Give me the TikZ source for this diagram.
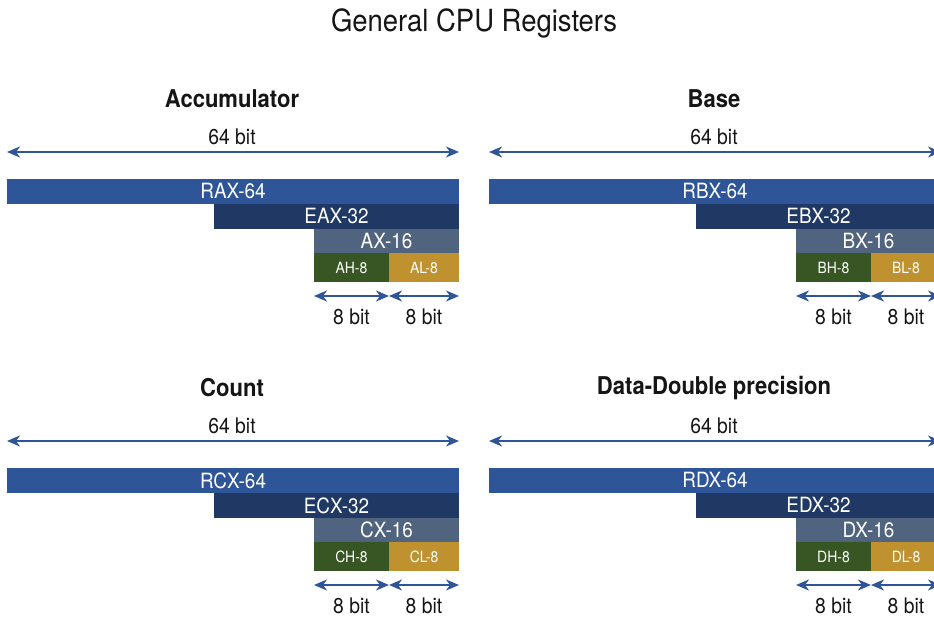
\documentclass[tikz,border=0pt]{standalone}
\usepackage{fontspec}
\setmainfont{TeX Gyre Heros}[FakeStretch=0.9]
\usetikzlibrary{arrows.meta}
\definecolor{rBlue}{HTML}{2E5597}
\definecolor{eBlue}{HTML}{1F3864}
\definecolor{xGray}{HTML}{50637F}
\definecolor{hGreen}{HTML}{375623}
\definecolor{lGold}{HTML}{BF912F}
\definecolor{ink}{HTML}{151515}

\begin{document}
\begin{tikzpicture}[x=1pt,y=-1pt,
  reg/.style={fill=#1,text=white,inner sep=0pt,outer sep=0pt,anchor=north west,
    font=\fontsize{21}{24}\selectfont},
  byte/.style={reg=#1,font=\fontsize{15.5}{18}\selectfont,minimum height=29pt},
  head/.style={text=ink,font=\fontsize{24.5}{28}\selectfont\bfseries},
  lbl/.style={text=ink,inner sep=0.5pt,font=\fontsize{21.5}{25}\selectfont},
  span/.style={rBlue,line width=1.6pt,{Stealth[length=13pt,width=11pt,inset=4pt]}-{Stealth[length=13pt,width=11pt,inset=4pt]}}]
\clip (0,0) rectangle (934,617);
\node[text=ink,font=\fontsize{30.5}{34}\selectfont] (main) at (474,23) {General CPU Registers};
\foreach \px/\py/\ttl/\ltr in {7/0/Accumulator/A,489/0/Base/B,7/289/Count/C,489/289/Data-Double precision/D}{
  \begin{scope}[shift={(\px,\py)}]
  \node[head] (t\ltr) at (225,99) {\ttl};
  \node[lbl] (w\ltr) at (225,137) {64 bit};
  % register halves, widest first
  \node[reg=rBlue,minimum width=452pt,minimum height=25pt] (R\ltr) at (0,179) {R\ltr X-64};
  \node[reg=eBlue,minimum width=245pt,minimum height=25pt] (E\ltr) at (207,204) {E\ltr X-32};
  \node[reg=xGray,minimum width=145pt,minimum height=24pt] (X\ltr) at (307,229) {\ltr X-16};
  \node[byte=hGreen,minimum width=75pt] (H\ltr) at (307,253) {\ltr H-8};
  \node[byte=lGold,minimum width=70pt] (L\ltr) at (382,253) {\ltr L-8};
  \draw[span] ([yshift=27pt]R\ltr.north west) -- ([yshift=27pt]R\ltr.north east);
  \draw[span] ([yshift=-14pt]H\ltr.south west) -- ([yshift=-14pt]H\ltr.south east);
  \draw[span] ([yshift=-14pt]L\ltr.south west) -- ([yshift=-14pt]L\ltr.south east);
  \node[lbl] (h\ltr) at ([yshift=-35pt]H\ltr.south) {8 bit};
  \node[lbl] (l\ltr) at ([yshift=-35pt]L\ltr.south) {8 bit};
  \end{scope}
}
\end{tikzpicture}
\end{document}
